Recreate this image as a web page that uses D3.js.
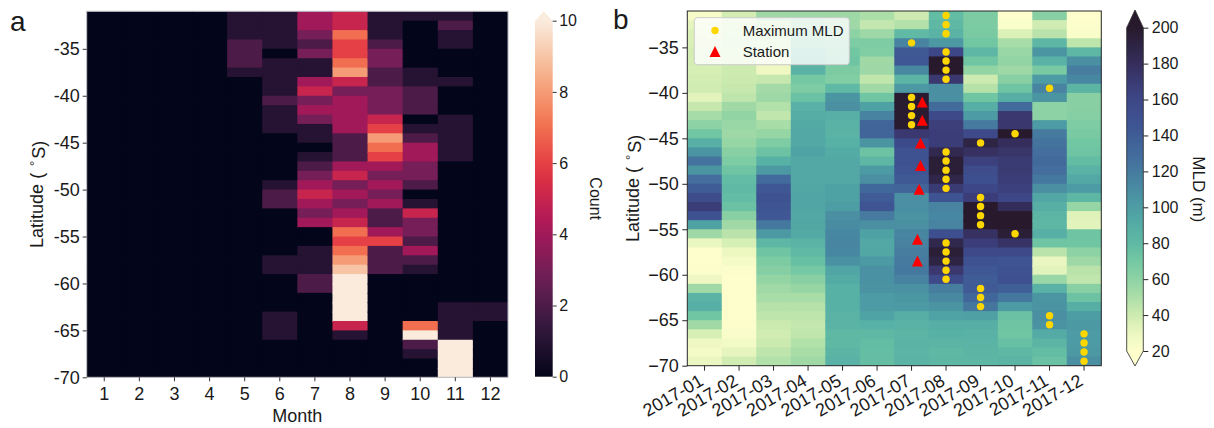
<!DOCTYPE html>
<html><head><meta charset="utf-8">
<script src="https://cdn.jsdelivr.net/npm/d3@7"></script>
<style>
body{margin:0;background:#fff;}
svg{display:block;}
text{font-family:"Liberation Sans", Arial, Helvetica, sans-serif; fill:#1a1a1a;}
</style>
</head><body>
<svg id="chart" width="1214" height="428"></svg>
<script>
// ---------------- DATA ----------------
const months = [1,2,3,4,5,6,7,8,9,10,11,12];
const monthLabels = ["2017-01","2017-02","2017-03","2017-04","2017-05","2017-06","2017-07","2017-08","2017-09","2017-10","2017-11","2017-12"];
// lower edge of each 1-degree latitude bin, from top (north) to bottom (south)
const latBins = [-32,-33,-34,-35,-36,-37,-38,-39,-40,-41,-42,-43,-44,-45,-46,-47,-48,-49,-50,-51,-52,-53,-54,-55,-56,-57,-58,-59,-60,-61,-62,-63,-64,-65,-66,-67,-68,-69,-70];
const latTicks = [-35,-40,-45,-50,-55,-60,-65,-70];
const countTicks = [0,2,4,6,8,10];
const mldTicks = [20,40,60,80,100,120,140,160,180,200];

// panel a: counts per month (rows follow latBins)
const cnt01 = [0,0,0,0,0,0,0,0,0,0,0,0,0,0,0,0,0,0,0,0,0,0,0,0,0,0,0,0,0,0,0,0,0,0,0,0,0,0,0];
const cnt02 = [0,0,0,0,0,0,0,0,0,0,0,0,0,0,0,0,0,0,0,0,0,0,0,0,0,0,0,0,0,0,0,0,0,0,0,0,0,0,0];
const cnt03 = [0,0,0,0,0,0,0,0,0,0,0,0,0,0,0,0,0,0,0,0,0,0,0,0,0,0,0,0,0,0,0,0,0,0,0,0,0,0,0];
const cnt04 = [0,0,0,0,0,0,0,0,0,0,0,0,0,0,0,0,0,0,0,0,0,0,0,0,0,0,0,0,0,0,0,0,0,0,0,0,0,0,0];
const cnt05 = [1,1,1,2,2,2,1,0,0,0,0,0,0,0,0,0,0,0,0,0,0,0,0,0,0,0,0,0,0,0,0,0,0,0,0,0,0,0,0];
const cnt06 = [1,1,1,1,0,1,1,1,1,2,1,1,1,0,0,0,0,0,1,2,2,0,0,0,0,0,1,1,0,0,0,0,1,1,1,0,0,0,0];
const cnt07 = [4,4,3,2,3,1,1,4,5,3,4,3,1,1,0,1,2,3,4,5,4,3,4,0,0,1,1,1,2,2,0,0,0,0,0,0,0,0,0];
const cnt08 = [5,5,7,6,6,7,8,5,3,4,4,4,4,2,2,2,4,5,3,4,3,4,5,7,6,7,8,9,12,12,12,12,12,5,1,0,0,0,0];
const cnt09 = [1,1,1,2,3,3,2,2,3,3,3,5,6,8,7,6,4,3,4,3,4,2,2,4,6,2,2,2,0,0,0,0,0,0,0,0,0,0,0];
const cnt10 = [1,0,0,0,0,0,1,1,2,2,2,0,1,2,4,4,3,3,2,0,1,5,3,3,2,4,2,1,0,0,0,0,0,7,12,2,1,0,0];
const cnt11 = [1,2,1,1,0,0,0,1,0,0,0,1,1,1,1,1,0,0,0,0,0,0,0,0,0,0,0,0,0,0,0,1,1,1,1,12,12,12,12];
const cnt12 = [0,0,0,0,0,0,0,0,0,0,0,0,0,0,0,0,0,0,0,0,0,0,0,0,0,0,0,0,0,0,0,1,1,0,0,0,0,0,0];

// panel b: MLD (m) per month (rows follow latBins)
const mld01 = [24,32,35,36,38,38,37,38,39,33,42,52,60,72,88,105,125,105,128,140,155,168,150,97,55,30,20,20,21,28,54,85,88,72,54,37,28,25,30];
const mld02 = [38,40,42,44,42,40,40,41,42,45,54,58,56,55,57,62,66,73,78,80,78,75,62,54,46,37,29,25,21,20,20,20,20,20,21,22,26,32,39];
const mld03 = [55,45,45,42,38,32,28,42,53,55,48,44,51,57,66,74,87,103,130,145,150,147,145,122,103,82,73,67,63,58,54,51,47,45,41,39,41,45,48];
const mld04 = [55,60,65,70,78,82,86,70,66,75,86,90,92,93,93,96,93,93,93,94,95,95,93,94,92,85,80,76,70,62,57,51,47,45,43,44,48,51,54];
const mld05 = [55,55,60,66,71,73,67,65,80,105,108,88,86,85,87,91,93,93,93,97,97,100,108,110,113,114,113,107,95,91,87,87,87,85,85,81,81,83,86];
const mld06 = [50,43,55,66,65,54,55,44,54,72,97,115,135,135,105,74,82,102,108,132,140,147,120,108,97,93,94,102,107,107,106,101,101,96,87,81,78,77,77];
const mld07 = [40,48,80,115,143,145,112,83,103,198,198,198,198,172,157,150,150,147,143,135,108,109,106,108,114,116,118,120,122,116,107,104,102,89,86,84,85,84,85];
const mld08 = [78,81,85,103,160,200,200,172,108,108,130,158,167,168,168,185,195,195,188,170,148,115,113,115,152,186,195,190,172,158,118,112,105,96,89,87,83,81,82];
const mld09 = [67,67,68,71,82,72,58,40,47,72,89,101,120,158,190,178,165,155,152,160,168,205,205,205,178,168,158,150,145,140,142,133,123,98,89,86,85,83,82];
const mld10 = [20,22,35,51,56,58,55,62,73,89,130,172,173,200,180,175,170,170,168,166,160,181,200,200,195,176,158,147,150,151,138,122,101,75,73,72,76,81,84];
const mld11 = [62,39,46,82,105,86,68,101,115,105,60,60,101,120,125,128,130,128,122,108,94,89,84,82,88,73,46,30,33,56,86,105,106,108,106,91,84,78,75];
const mld12 = [20,21,22,45,82,108,118,113,84,62,62,63,66,68,71,73,78,86,93,101,82,57,34,33,73,72,60,55,46,44,62,74,89,100,103,101,101,103,108];

// maximum-MLD markers (month index, latitude)
const maxMonth = [7,7,7,7,7, 8,8,8,8,8,8,8,8,8,8,8,8,8,8,8,8,8, 9,9,9,9,9,9,9,9, 10,10, 11,11,11, 12,12,12,12];
const maxLat   = [-34.5,-40.5,-41.5,-42.5,-43.5, -31.5,-32.5,-33.5,-35.5,-36.5,-37.5,-38.5,-46.5,-47.5,-48.5,-49.5,-50.5,-56.5,-57.5,-58.5,-59.5,-60.5, -45.5,-51.5,-52.5,-53.5,-54.5,-61.5,-62.5,-63.5, -44.5,-55.5, -39.5,-64.5,-65.5, -66.5,-67.5,-68.5,-69.5];
// stations (fractional month position, latitude)
const stationMonth = [7.31,7.31,7.26,7.26,7.22,7.17,7.17];
const stationLat   = [-41.0,-43.0,-45.5,-48.0,-50.6,-56.1,-58.5];

const countData = [cnt01,cnt02,cnt03,cnt04,cnt05,cnt06,cnt07,cnt08,cnt09,cnt10,cnt11,cnt12];
const mldData = [mld01,mld02,mld03,mld04,mld05,mld06,mld07,mld08,mld09,mld10,mld11,mld12];

// ---------------- COLORMAPS ----------------
const rocketStops = ["#03051a","#35193e","#701f57","#ad1759","#e13342","#f37651","#f6b48f","#faebdd"];
const rocketT = d3.scaleLinear().domain(rocketStops.map((c,i)=>i/(rocketStops.length-1))).range(rocketStops).interpolate(d3.interpolateRgb).clamp(true);
const countColor = v => rocketT(v/10);

const deepVals = [20,30,40,50,60,70,80,90,100,110,120,130,140,150,160,170,180,190,200];
const deepCols = ["#fdfecc","#ebf7c0","#cdebb0","#acdea8","#8dd2a4","#74c8a3","#5fb9a4","#55ada5","#4d9da4","#498ca2","#467b9f","#426b9c","#3f5c96","#3e5191","#3d4787","#3b3b74","#352e5c","#2e2444","#281a2c"];
const deepColor = d3.scaleLinear().domain(deepVals).range(deepCols).interpolate(d3.interpolateRgb).clamp(true);

// ---------------- DRAW ----------------
const svg = d3.select("#chart");
const defs = svg.append("defs");

// ===== Panel a =====
const L = {x0:86.7, x1:508, y0:11.3, y1:377.3};
const xL = d3.scaleBand().domain(months).range([L.x0, L.x1]).padding(0);
const yL = d3.scaleLinear().domain([-70,-31]).range([L.y1, L.y0]);

defs.append("clipPath").attr("id","clipA").append("rect")
  .attr("x",L.x0).attr("y",L.y0).attr("width",L.x1-L.x0).attr("height",L.y1-L.y0);
const gA = svg.append("g");
const cellsA = gA.append("g").attr("clip-path","url(#clipA)");
months.forEach((m,i)=>{
  cellsA.selectAll(null).data(countData[i]).enter().append("rect")
    .attr("x", xL(m))
    .attr("y", (d,r)=>yL(latBins[r]+1))
    .attr("width", xL.bandwidth()+1)
    .attr("height", (d,r)=>yL(latBins[r]) - yL(latBins[r]+1) + 1)
    .attr("fill", d=>countColor(d));
});
gA.append("rect").attr("x",L.x0).attr("y",L.y0).attr("width",L.x1-L.x0).attr("height",L.y1-L.y0)
  .attr("fill","none").attr("stroke","#b4b4bc").attr("stroke-width",1);

const axLy = gA.append("g").attr("transform",`translate(${L.x0},0)`)
  .call(d3.axisLeft(yL).tickValues(latTicks).tickSize(4).tickPadding(3).tickFormat(d=>String(d)));
const axLx = gA.append("g").attr("transform",`translate(0,${L.y1})`)
  .call(d3.axisBottom(xL).tickSize(4).tickPadding(5.5));
[axLy, axLx].forEach(a=>{
  a.select(".domain").remove();
  a.selectAll("line").attr("stroke","#333");
  a.selectAll("text").style("font-size","18px").attr("fill","#1a1a1a");
});
gA.append("text").attr("x",(L.x0+L.x1)/2).attr("y",422).attr("text-anchor","middle").style("font-size","18px").text("Month");

function latLabel(g, cx, cy){
  const t = g.append("text").attr("transform",`translate(${cx},${cy}) rotate(-90)`)
    .attr("text-anchor","middle").attr("dy","0.35em").style("font-size","18px");
  t.append("tspan").text("Latitude (");
  t.append("tspan").attr("dx",7).attr("dy","-0.35em").style("font-size","13px").text("\u00b0");
  t.append("tspan").attr("dx",2).attr("dy","0.35em").text("S)");
}
latLabel(gA, 37, (L.y0+L.y1)/2);
svg.append("text").attr("x",10).attr("y",31).style("font-size","28px").text("a");

// colorbar a
const CA = {x:535, w:17.7, top:20.7, bot:376.7, apex:11.5};
const cScale = d3.scaleLinear().domain([0,10]).range([CA.bot, CA.top]);
const gradA = defs.append("linearGradient").attr("id","gradA").attr("x1",0).attr("y1",1).attr("x2",0).attr("y2",0);
d3.range(0,1.0001,0.05).forEach(t=>gradA.append("stop").attr("offset",t).attr("stop-color",countColor(t*10)));
svg.append("rect").attr("x",CA.x).attr("y",CA.top).attr("width",CA.w).attr("height",CA.bot-CA.top).attr("fill","url(#gradA)");
svg.append("path").attr("d",`M${CA.x},${CA.top+0.3}L${CA.x+CA.w},${CA.top+0.3}L${CA.x+CA.w/2},${CA.apex}Z`).attr("fill",countColor(10));
const axCA = svg.append("g").attr("transform",`translate(${CA.x+CA.w},0)`)
  .call(d3.axisRight(cScale).tickValues(countTicks).tickSize(4).tickPadding(2.5));
axCA.select(".domain").remove();
axCA.selectAll("line").attr("stroke","#333");
axCA.selectAll("text").style("font-size","16px").attr("fill","#1a1a1a");
svg.append("text").attr("transform",`translate(596,${(CA.top+CA.bot)/2}) rotate(90)`).attr("text-anchor","middle").attr("dy","0.35em").style("font-size","16px").text("Count");

// ===== Panel b =====
const R = {x0:687.3, x1:1101.3, y0:11, y1:365.7};
const xR = d3.scaleBand().domain(monthLabels).range([R.x0, R.x1]).padding(0);
const xRn = d3.scaleLinear().domain([0.5,12.5]).range([R.x0, R.x1]);
const yR = d3.scaleLinear().domain([-70,-31]).range([R.y1, R.y0]);

defs.append("clipPath").attr("id","clipB").append("rect")
  .attr("x",R.x0).attr("y",R.y0).attr("width",R.x1-R.x0).attr("height",R.y1-R.y0);
const gB = svg.append("g");
const cellsB = gB.append("g").attr("clip-path","url(#clipB)");
monthLabels.forEach((m,i)=>{
  cellsB.selectAll(null).data(mldData[i]).enter().append("rect")
    .attr("x", xR(m))
    .attr("y", (d,r)=>yR(latBins[r]+1))
    .attr("width", xR.bandwidth()+1)
    .attr("height", (d,r)=>yR(latBins[r]) - yR(latBins[r]+1) + 1)
    .attr("fill", d=>deepColor(d));
});
gB.append("rect").attr("x",R.x0).attr("y",R.y0).attr("width",R.x1-R.x0).attr("height",R.y1-R.y0)
  .attr("fill","none").attr("stroke","#262626").attr("stroke-width",1);

// markers
gB.selectAll(null).data(maxMonth).enter().append("circle")
  .attr("cx",(d)=>xRn(d)).attr("cy",(d,i)=>yR(maxLat[i])).attr("r",3.7).attr("fill","#ffd700");
const tri = (x,y,s)=>`M${x},${y-s}L${x+s},${y+s}L${x-s},${y+s}Z`;
gB.selectAll(null).data(stationMonth).enter().append("path")
  .attr("d",(d,i)=>tri(xRn(d), yR(stationLat[i]), 5.5)).attr("fill","#ff0000");

// legend
const lg = gB.append("g");
lg.append("rect").attr("x",694.3).attr("y",17.7).attr("width",155).attr("height",47).attr("rx",3)
  .attr("fill","#ffffff").attr("fill-opacity",0.8).attr("stroke","#cccccc").attr("stroke-width",1);
lg.append("circle").attr("cx",715).attr("cy",30.5).attr("r",3.7).attr("fill","#ffd700");
lg.append("path").attr("d",tri(715,51.5,5.5)).attr("fill","#ff0000");
lg.append("text").attr("x",742.7).attr("y",30.5).attr("dy","0.35em").style("font-size","15px").text("Maximum MLD");
lg.append("text").attr("x",742.7).attr("y",51.5).attr("dy","0.35em").style("font-size","15px").text("Station");

const axRy = gB.append("g").attr("transform",`translate(${R.x0},0)`)
  .call(d3.axisLeft(yR).tickValues(latTicks).tickSize(5).tickPadding(3.5));
const axRx = gB.append("g").attr("transform",`translate(0,${R.y1})`)
  .call(d3.axisBottom(xR).tickSize(5));
[axRy, axRx].forEach(a=>{
  a.select(".domain").remove();
  a.selectAll("line").attr("stroke","#262626");
  a.selectAll("text").attr("fill","#1a1a1a");
});
axRy.selectAll("text").style("font-size","18px");
axRx.selectAll("text")
  .style("font-size","18px")
  .attr("text-anchor","end")
  .attr("y",null).attr("dy","0.35em")
  .attr("transform","translate(-3,13) rotate(-30)");
latLabel(gB, 633, (R.y0+R.y1)/2);
svg.append("text").attr("x",613).attr("y",29).style("font-size","28px").text("b");

// colorbar b
const CB = {x:1126.7, w:16.6, top:27.7, bot:351, apexTop:10, apexBot:366};
const mScale = d3.scaleLinear().domain([20,200]).range([CB.bot, CB.top]);
const gradB = defs.append("linearGradient").attr("id","gradB").attr("x1",0).attr("y1",1).attr("x2",0).attr("y2",0);
d3.range(0,1.0001,0.025).forEach(t=>gradB.append("stop").attr("offset",t).attr("stop-color",deepColor(20+t*180)));
svg.append("rect").attr("x",CB.x).attr("y",CB.top).attr("width",CB.w).attr("height",CB.bot-CB.top).attr("fill","url(#gradB)");
svg.append("path").attr("d",`M${CB.x},${CB.top+0.3}L${CB.x+CB.w},${CB.top+0.3}L${CB.x+CB.w/2},${CB.apexTop}Z`).attr("fill",deepColor(200));
svg.append("path").attr("d",`M${CB.x},${CB.bot-0.3}L${CB.x+CB.w},${CB.bot-0.3}L${CB.x+CB.w/2},${CB.apexBot}Z`).attr("fill",deepColor(20));
svg.append("path").attr("d",`M${CB.x},${CB.top}L${CB.x+CB.w/2},${CB.apexTop}L${CB.x+CB.w},${CB.top}L${CB.x+CB.w},${CB.bot}L${CB.x+CB.w/2},${CB.apexBot}L${CB.x},${CB.bot}Z`)
  .attr("fill","none").attr("stroke","#262626").attr("stroke-width",0.8);
const axCB = svg.append("g").attr("transform",`translate(${CB.x+CB.w},0)`)
  .call(d3.axisRight(mScale).tickValues(mldTicks).tickSize(5).tickPadding(3.5));
axCB.select(".domain").remove();
axCB.selectAll("line").attr("stroke","#262626");
axCB.selectAll("text").style("font-size","16px").attr("fill","#1a1a1a");
svg.append("text").attr("transform",`translate(1199,${(CB.top+CB.bot)/2}) rotate(90)`).attr("text-anchor","middle").attr("dy","0.35em").style("font-size","17px").text("MLD (m)");
</script>
</body></html>
